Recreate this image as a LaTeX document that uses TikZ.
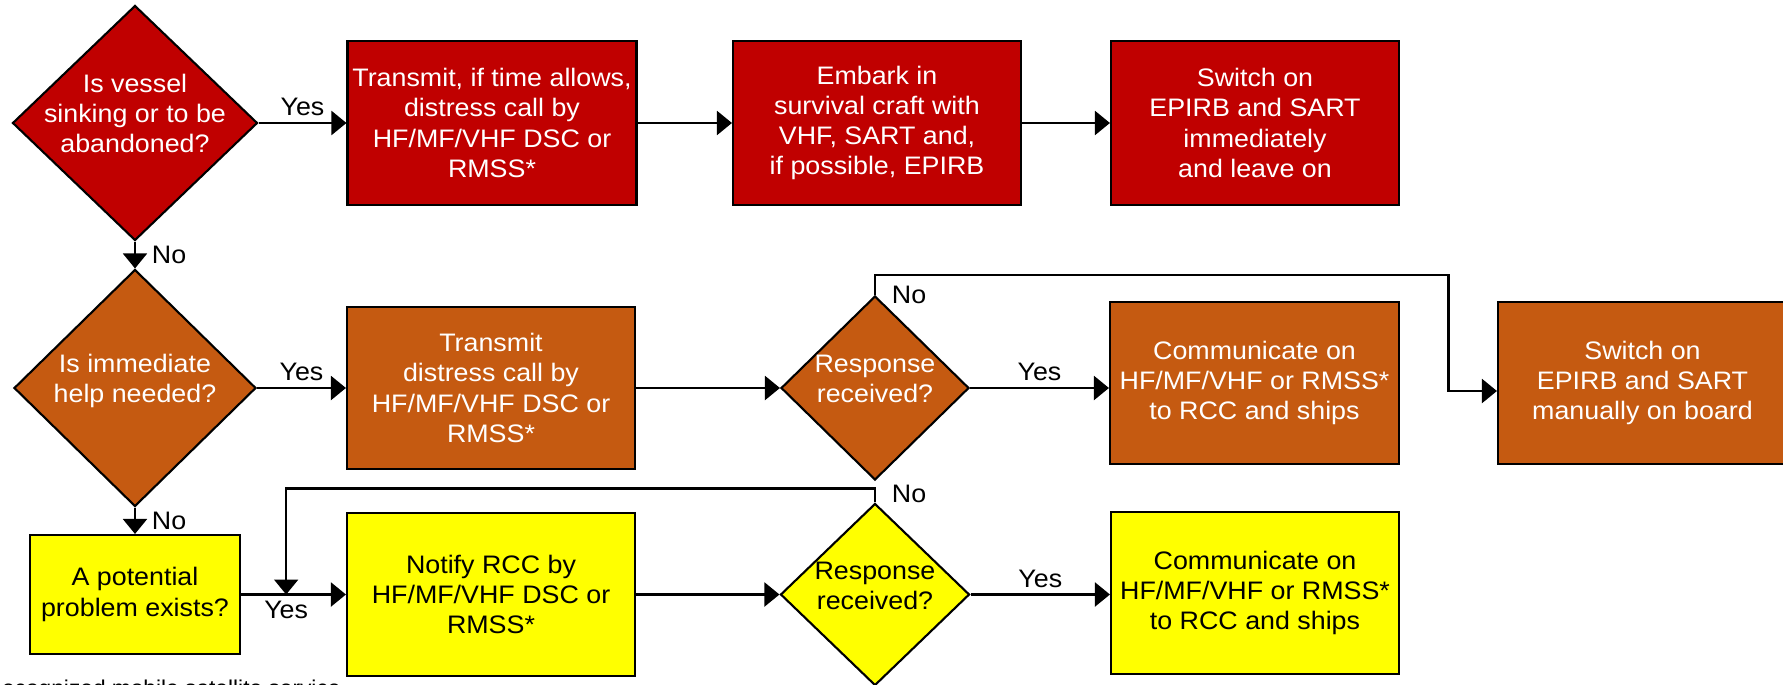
\documentclass[tikz,border=0pt]{standalone}
\usepackage{fontspec}
\setmainfont{Liberation Sans}[FakeStretch=1.06]
\usetikzlibrary{shapes,arrows,positioning,shapes.geometric,calc,arrows.meta}
\definecolor{gmdssred}{HTML}{C00000}
\definecolor{gmdssorange}{HTML}{C55A11}
\definecolor{gmdssyellow}{HTML}{FFFF00}
\newcommand{\dtext}[1]{\makebox[0pt]{\smash{\begin{tabular}{@{}c@{}}#1\end{tabular}}}}

\begin{document}
\begin{tikzpicture}[->,>={Triangle[length=.3cm,width=.48cm]},node distance=2cm,line width=1.2pt,
    font=\fontsize{14.4}{17.2}\selectfont,
    box/.style={draw,rectangle,align=center,inner sep=0pt,minimum width=5.76cm,minimum height=3.24cm},
    dec/.style={draw,diamond,inner sep=0pt},
    lvlred/.style={fill=gmdssred,text=white},
    lvlorange/.style={fill=gmdssorange,text=white},
    lvlyellow/.style={fill=gmdssyellow,text=black}]
    \useasboundingbox (-2.70,2.46) rectangle (32.96,-11.22);
    \clip (-2.70,2.46) rectangle (32.96,-11.22);

    \node[dec,lvlred,minimum width=4.9cm,minimum height=4.7cm] (d1) {\dtext{Is vessel\\sinking or to be\\abandoned?}};
    \node[box,lvlred,right of = d1,xshift=5.14cm,minimum width=5.78cm,minimum height=3.28cm] (t1) {Transmit, if time allows,\\distress call by\\HF/MF/VHF DSC or\\RMSS*};
    \node[box,lvlred,right of = t1,xshift=5.70cm,minimum height=3.28cm] (emb) {Embark in\\survival craft with\\VHF, SART and,\\if possible, EPIRB};
    \node[box,lvlred,right of = emb,xshift=5.56cm,minimum height=3.28cm] (s1) {Switch on\\EPIRB and SART\\immediately\\and leave on};

    \node[dec,lvlorange,below of = d1,yshift=-3.30cm,minimum width=4.84cm,minimum height=4.74cm] (d2) {\dtext{Is immediate\\help needed?}};
    \node[box,lvlorange,right of = d2,xshift=5.12cm] (t2) {Transmit\\distress call by\\HF/MF/VHF DSC or\\RMSS*};
    \node[dec,lvlorange,right of = t2,xshift=5.68cm,minimum width=3.76cm,minimum height=3.68cm] (d3) {\dtext{Response\\received?}};
    \node[box,lvlorange,right of = d3,xshift=5.59cm,yshift=.10cm,minimum width=5.78cm] (c2) {Communicate on\\HF/MF/VHF or RMSS*\\to RCC and ships};
    \node[box,lvlorange,right of = c2,xshift=5.76cm,minimum width=5.78cm] (s2) {Switch on\\EPIRB and SART\\manually on board};

    \node[box,lvlyellow,below of = d2,yshift=-2.13cm,minimum width=4.2cm,minimum height=2.38cm] (p) {A potential\\problem exists?};
    \node[box,lvlyellow,right of = p,xshift=5.12cm,minimum height=3.26cm] (n) {Notify RCC by\\HF/MF/VHF DSC or\\RMSS*};
    \node[dec,lvlyellow,right of = n,xshift=5.68cm,minimum width=3.78cm,minimum height=3.64cm] (d4) {\dtext{Response\\received?}};
    \node[box,lvlyellow,right of = d4,xshift=5.60cm,yshift=.03cm] (c3) {Communicate on\\HF/MF/VHF or RMSS*\\to RCC and ships};

    \node[anchor=base west,inner sep=0pt,font=\fontsize{12.2}{14}\selectfont] (fn) at (-2.68,-11.44) {ecognized mobile satellite service};

    \coordinate (yes3) at ($(p.east)!.43!(n.west)$);

    \path
    (d1)    edge node[above] {Yes} (t1)
            edge node[right,xshift=.2cm] {No} (d2)
    (t1)    edge (emb)
    (emb)   edge (s1)
    (d2)    edge node[above] {Yes} (t2)
            edge node[right,xshift=.2cm] {No} (p)
    (t2)    edge (d3)
    (d3.east) edge node[above] {Yes} (d3.east -| c2.west)
    (p)     edge node[below,pos=.43] {Yes} (n)
    (n)     edge (d4)
    (d4.east) edge node[above] {Yes} (d4.east -| c3.west)
    ;

    \draw (d3.north) node[right,xshift=.2cm] {No} -- ++(0,.4) -| ($(c2.east)!.5!(s2.west)$) |- ([yshift=-.16cm]s2.west);
    \draw (d4.north) node[right,xshift=.2cm,yshift=.18cm] {No} -- ++(0,.28) -| (yes3);
\end{tikzpicture}
\end{document}
